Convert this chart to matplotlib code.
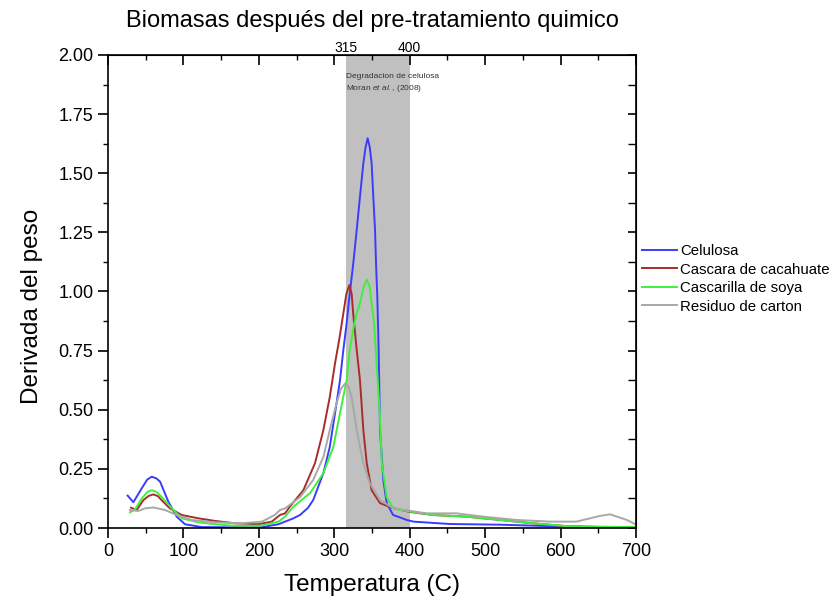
import matplotlib
matplotlib.use('Agg')

import matplotlib.pyplot as plt
import matplotlib.transforms as mtransforms

plt.rcParams['font.family'] = ['Liberation Sans', 'DejaVu Sans']
plt.rcParams['mathtext.fontset'] = 'custom'
plt.rcParams['mathtext.rm'] = 'Liberation Sans'
plt.rcParams['mathtext.it'] = 'Liberation Sans:italic'

# curves (temperature in C, derivative of weight)
celulosa_t = [26, 33.6, 44.7, 52, 58, 64, 69, 80, 91, 102, 124, 160, 203, 226, 234.7, 245,
              254.5, 265, 272, 285.5, 294, 301, 307.6, 312, 316.4, 320, 325.2, 329.7, 334,
              338.5, 341.5, 344.2, 347, 349.5, 351.7, 354, 355.3, 357, 358.8, 360.6, 365,
              369.5, 378, 387, 396, 405, 453, 520, 586, 652, 700]
celulosa_d = [0.137, 0.109, 0.168, 0.205, 0.217, 0.21, 0.196, 0.111, 0.048, 0.016, 0.004,
              0.003, 0.003, 0.016, 0.027, 0.04, 0.055, 0.085, 0.118, 0.232, 0.343, 0.486,
              0.626, 0.753, 0.867, 0.978, 1.12, 1.26, 1.40, 1.542, 1.61, 1.648, 1.61, 1.542,
              1.40, 1.26, 1.12, 0.978, 0.753, 0.414, 0.203, 0.105, 0.055, 0.045, 0.034,
              0.027, 0.017, 0.014, 0.008, 0.003, 0.003]

cacahuate_t = [30.5, 38, 46.8, 54, 60, 66, 71, 82, 97.7, 119.8, 141.9, 168, 199, 217,
               228, 234.7, 241, 259, 274.4, 285.5, 294, 301, 306.7, 312, 316, 320, 323,
               325, 329.7, 334, 338.5, 343, 349.5, 360.6, 378, 400, 431, 475.5, 520, 563,
               608, 652, 700]
cacahuate_d = [0.086, 0.076, 0.118, 0.136, 0.142, 0.135, 0.118, 0.083, 0.055, 0.041, 0.03,
               0.02, 0.016, 0.027, 0.055, 0.062, 0.09, 0.16, 0.274, 0.414, 0.554, 0.697,
               0.8, 0.908, 0.99, 1.027, 0.99, 0.908, 0.753, 0.626, 0.414, 0.274, 0.16, 0.105,
               0.084, 0.068, 0.055, 0.048, 0.034, 0.02, 0.008, 0.005, 0.004]

soya_t = [29, 36, 44.7, 52, 58, 64, 71, 84.5, 97.7, 119.8, 141.9, 164, 203, 226, 234.7,
          245.7, 268, 285.5, 298.7, 307.6, 316.4, 320, 325, 329, 334, 339, 343, 347,
          349.5, 353, 355, 358, 360, 363, 369.5, 378, 387, 431, 475.5, 520, 563,
          608, 652, 700]
soya_d = [0.066, 0.08, 0.125, 0.152, 0.16, 0.153, 0.132, 0.083, 0.041, 0.024, 0.016, 0.01,
          0.01, 0.027, 0.048, 0.09, 0.148, 0.232, 0.343, 0.486, 0.626, 0.74, 0.84, 0.9,
          0.95, 1.02, 1.05, 1.02, 0.95, 0.86, 0.75, 0.6, 0.5, 0.274, 0.13,
          0.084, 0.076, 0.055, 0.048, 0.034, 0.02, 0.008, 0.005, 0.004]

carton_t = [29, 40, 49, 60, 75.6, 91, 111, 141.9, 177, 204, 221, 228, 234.7, 254.5, 272,
            285.5, 294, 303, 309, 315, 319, 323, 329.7, 338.5, 347, 360.6, 378, 387, 422.5,
            462, 497.6, 541.8, 586, 621, 652, 665.5, 688, 701]
carton_d = [0.076, 0.072, 0.083, 0.087, 0.076, 0.055, 0.034, 0.024, 0.02, 0.027, 0.055,
            0.076, 0.083, 0.13, 0.203, 0.3, 0.414, 0.528, 0.59, 0.613, 0.595, 0.554, 0.414,
            0.274, 0.19, 0.118, 0.084, 0.079, 0.062, 0.062, 0.048, 0.034, 0.027, 0.027,
            0.051, 0.058, 0.034, 0.013]

band = (315, 400)

fig = plt.figure(figsize=(8.33, 6.04), dpi=100)
ax = fig.add_axes([0.1297, 0.1258, 0.6338, 0.7832])

ax.axvspan(band[0], band[1], color='#c0c0c0', lw=0, zorder=0)

lw = 1.4
ax.plot(celulosa_t, celulosa_d, color='#3b3bff', lw=lw, label='Celulosa')
ax.plot(cacahuate_t, cacahuate_d, color='#a82c2c', lw=lw, label='Cascara de cacahuate')
ax.plot(soya_t, soya_d, color='#3ef03e', lw=lw, label='Cascarilla de soya')
ax.plot(carton_t, carton_d, color='#a8a8a8', lw=lw, label='Residuo de carton')

ax.set_xlim(0, 700)
ax.set_ylim(0, 2.0)
ax.set_xticks(range(0, 701, 100))
ax.set_xticks(range(50, 701, 100), minor=True)
ax.set_yticks([i * 0.25 for i in range(9)])
ax.set_yticks([0.125 + i * 0.25 for i in range(8)], minor=True)
ax.set_yticklabels(['%.2f' % (i * 0.25) for i in range(9)])
ax.tick_params(which='major', length=7, width=1.2, labelsize=13, direction='out')
ax.tick_params(which='minor', length=3.5, width=1.0, direction='out')
for s in ax.spines.values():
    s.set_linewidth(1.2)

# mirrored ticks pointing inward on top and right
top = ax.secondary_xaxis('top')
top.set_xticks(range(0, 701, 100))
top.set_xticks(range(50, 701, 100), minor=True)
top.tick_params(which='major', direction='in', length=7, width=1.2, labeltop=False)
top.tick_params(which='minor', direction='in', length=3.5, width=1.0)
right = ax.secondary_yaxis('right')
right.set_yticks([i * 0.25 for i in range(9)])
right.set_yticks([0.125 + i * 0.25 for i in range(8)], minor=True)
right.tick_params(which='major', direction='in', length=6, width=1.2, labelright=False)
right.tick_params(which='minor', direction='in', length=6, width=1.0)

trans = mtransforms.blended_transform_factory(ax.transData, ax.transAxes)
for t in band:
    ax.text(t, 0.999, str(t), transform=trans, ha='center', va='bottom', fontsize=10)

ax.text(band[0] + 1, 0.955, 'Degradacion de celulosa', transform=trans,
        ha='left', va='center', fontsize=6, color='#333333')
ax.text(band[0] + 1, 0.93, r'Moran $\it{et\ al.}$, (2008)', transform=trans,
        ha='left', va='center', fontsize=6, color='#333333')

ax.set_xlabel('Temperatura (C)', fontsize=17.5)
ax.set_ylabel('Derivada del peso', fontsize=17.5)
ax.xaxis.set_label_coords(0.5, -0.097)
ax.yaxis.set_label_coords(-0.123, 0.469)
ax.set_title('Biomasas después del pre-tratamiento quimico', fontsize=17, pad=20)

fig.legend(loc='upper left', bbox_to_anchor=(0.771, 0.596), frameon=False,
           fontsize=10.8, handlelength=2.3, labelspacing=0.3, handletextpad=0.25,
           borderaxespad=0, borderpad=0)

fig.savefig('out.png', dpi=100)
